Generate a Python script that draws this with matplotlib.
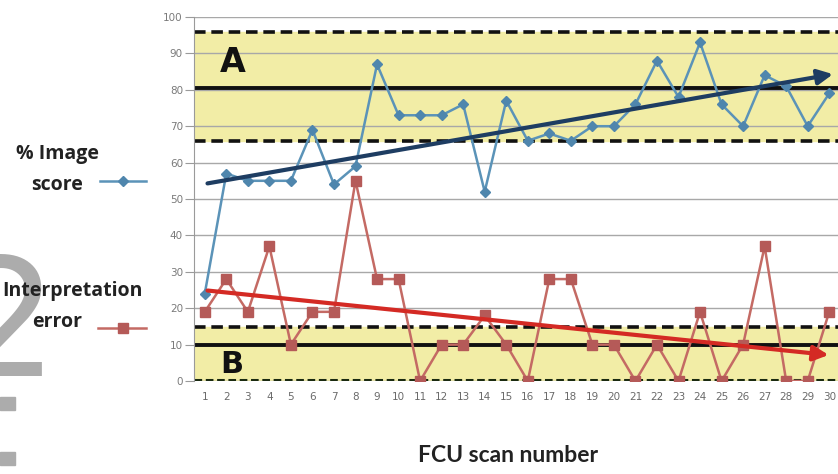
import matplotlib
matplotlib.use("Agg")
import matplotlib.pyplot as plt
from matplotlib.patches import Rectangle
import numpy as np

scan = list(range(1, 31))
image_score = [24, 57, 55, 55, 55, 69, 54, 59, 87, 73, 73, 73, 76, 52, 77,
               66, 68, 66, 70, 70, 76, 88, 78, 93, 76, 70, 84, 81, 70, 79]
interp_error = [19, 28, 19, 37, 10, 19, 19, 55, 28, 28, 0, 10, 10, 18, 10,
                0, 28, 28, 10, 10, 0, 10, 0, 19, 0, 10, 37, 0, 0, 19]
yticks = list(range(0, 101, 10))

# control zones
zoneA = (65.8, 96.0, 80.5)   # lower dashed, upper dashed, target
zoneB = (0.0, 14.8, 10.0)

W, H = 838, 474
fig = plt.figure(figsize=(W / 100, H / 100), dpi=100)
fig.patch.set_facecolor("white")
ax = fig.add_axes([194 / W, (H - 381) / H, (840 - 194) / W, (381 - 17) / H])
ax.set_xlim(0.5, 30.5)
ax.set_ylim(0, 100)
ax.set_facecolor("white")

yellow = "#f2eda6"
ax.axhspan(zoneA[0], zoneA[1], color=yellow, zorder=0)
ax.axhspan(zoneB[0], zoneB[1], color=yellow, zorder=0)

for t in yticks:
    ax.axhline(t, color="#a8a8a8", lw=1.0, zorder=1)

for y in (zoneA[0], zoneA[1], zoneB[1]):
    ax.axhline(y, color="#111111", lw=2.6, ls=(0, (3.2, 1.6)), zorder=2)
ax.axhline(0.4, color="#1a2a10", lw=2.2, ls=(0, (2.5, 1.2)), zorder=2)
ax.axhline(zoneA[2], color="#111111", lw=2.8, zorder=2)
ax.axhline(zoneB[2], color="#111111", lw=2.8, zorder=2)

blue = "#5b93b8"
red = "#c46a64"
ax.plot(scan, image_score, color=blue, lw=1.8, marker="D", ms=5,
        mfc="#4f86ad", mec="#4f86ad", zorder=4)
ax.plot(scan, interp_error, color=red, lw=1.8, marker="s", ms=6.5,
        mfc="#b55a58", mec="#b55a58", zorder=4)

# linear trend lines with arrow heads
x = np.array(scan, dtype=float)
pb = np.polyfit(x, image_score, 1)
pr = np.polyfit(x, interp_error, 1)
ax.annotate("", xy=(30.3, np.polyval(pb, 30.3)), xytext=(1, np.polyval(pb, 1)),
            arrowprops=dict(arrowstyle="-|>,head_length=0.9,head_width=0.45",
                            color="#1e3d62", lw=3), zorder=5)
ax.annotate("", xy=(30.1, np.polyval(pr, 30.1)), xytext=(1, np.polyval(pr, 1)),
            arrowprops=dict(arrowstyle="-|>,head_length=0.9,head_width=0.45",
                            color="#d42a24", lw=3), zorder=5)

ax.text(1.7, 87.5, "A", fontsize=24, fontweight="bold", color="#111111",
        ha="left", va="center", zorder=6, family="DejaVu Sans")
ax.text(1.7, 4.6, "B", fontsize=22, fontweight="bold", color="#111111",
        ha="left", va="center", zorder=6, family="DejaVu Sans")

for s in ("top", "right", "bottom"):
    ax.spines[s].set_visible(False)
ax.spines["left"].set_color("#9a9a9a")
ax.set_yticks(yticks)
ax.set_xticks(scan)
ax.tick_params(axis="y", colors="#9a9a9a", labelcolor="#7a7a7a", labelsize=7.5,
               length=6.5, width=0.8, pad=1.5)
ax.tick_params(axis="x", length=0, labelcolor="#6a6a6a", labelsize=7.5, pad=8)

fig.text(508 / W, 1 - 455 / H, "FCU scan number", fontsize=16.5,
         fontweight="bold", color="#222222", ha="center", va="center",
         family="Lato")

# legend-like labels
lfont = dict(fontsize=14, fontweight="bold", color="#222222", ha="center",
             va="center", family="Open Sans")
fig.text(57 / W, 1 - 154 / H, "% Image", **lfont)
fig.text(57 / W, 1 - 185 / H, "score", **lfont)
fig.text(72 / W, 1 - 291 / H, "Interpretation", **lfont)
fig.text(57 / W, 1 - 322 / H, "error", **lfont)
fig.add_artist(plt.Line2D([100 / W, 146 / W], [1 - 181 / H] * 2, color=blue,
                          lw=1.8))
fig.add_artist(plt.Line2D([123 / W], [1 - 181 / H], color="#4f86ad",
                          marker="D", ms=5, lw=0))
fig.add_artist(plt.Line2D([98 / W, 146 / W], [1 - 328 / H] * 2, color=red,
                          lw=1.8))
fig.add_artist(plt.Line2D([123 / W], [1 - 328 / H], color="#b55a58",
                          marker="s", ms=6.5, lw=0))

# grey artefact at left edge
fig.text(58 / W, 1 - 376 / H, "2", fontsize=118, color="#acacac",
         ha="right", va="baseline", family="DejaVu Sans", zorder=0)
fig.add_artist(Rectangle((0, 1 - 410 / H), 15 / W, 13 / H, color="#acacac",
                         transform=fig.transFigure, zorder=0))
fig.add_artist(Rectangle((0, 1 - 465 / H), 15 / W, 13 / H, color="#acacac",
                         transform=fig.transFigure, zorder=0))

fig.savefig("out.png", dpi=100)
